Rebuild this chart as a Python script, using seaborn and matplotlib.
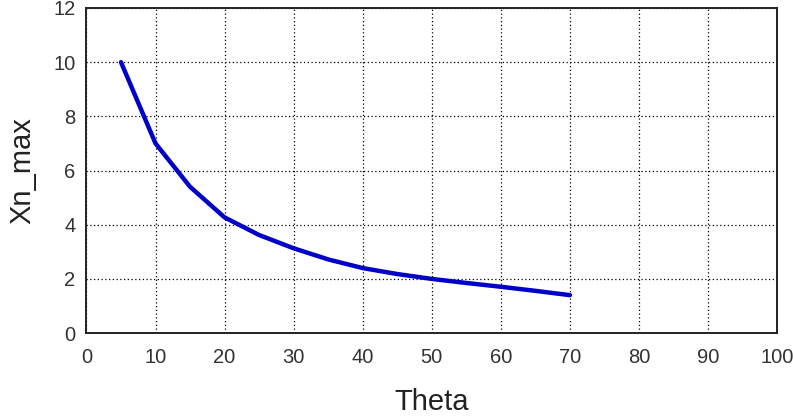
import matplotlib
matplotlib.use("Agg")
import matplotlib.pyplot as plt
import seaborn as sns
import pandas as pd

theta = [5, 10, 15, 20, 25, 30, 35, 40, 45, 50, 55, 60, 65, 70]
xn_max = [10.0, 7.0, 5.4, 4.27, 3.62, 3.13, 2.72, 2.40, 2.18, 2.0, 1.85, 1.71, 1.56, 1.40]
x_ticks = [0, 10, 20, 30, 40, 50, 60, 70, 80, 90, 100]
y_ticks = [0, 2, 4, 6, 8, 10, 12]

sns.set_style("white")
plt.rcParams["font.family"] = ["Liberation Sans", "DejaVu Sans"]

df = pd.DataFrame({"Theta": theta, "Xn_max": xn_max})

fig = plt.figure(figsize=(7.93, 4.19), dpi=100)
ax = fig.add_axes([0.109, 0.205, 0.871, 0.776])

sns.lineplot(data=df, x="Theta", y="Xn_max", ax=ax, color="#0000c8", linewidth=3.2)

ax.set_xlim(0, 100)
ax.set_ylim(0, 12)
ax.set_xticks(x_ticks)
ax.set_yticks(y_ticks)
ax.grid(True, color="black", linestyle=(0, (1, 2)), linewidth=0.9)
ax.tick_params(axis="both", direction="in", length=4, width=1, colors="black",
               labelsize=14.5, labelcolor="#333333")
ax.tick_params(axis="x", pad=11)
ax.tick_params(axis="y", pad=8)
for sp in ax.spines.values():
    sp.set_color("#222222")
    sp.set_linewidth(1.4)

ax.set_xlabel("Theta", fontsize=21, color="#222222", labelpad=15)
ax.set_ylabel("Xn_max", fontsize=21, color="#222222", labelpad=12)

fig.savefig("out.png", dpi=100)
